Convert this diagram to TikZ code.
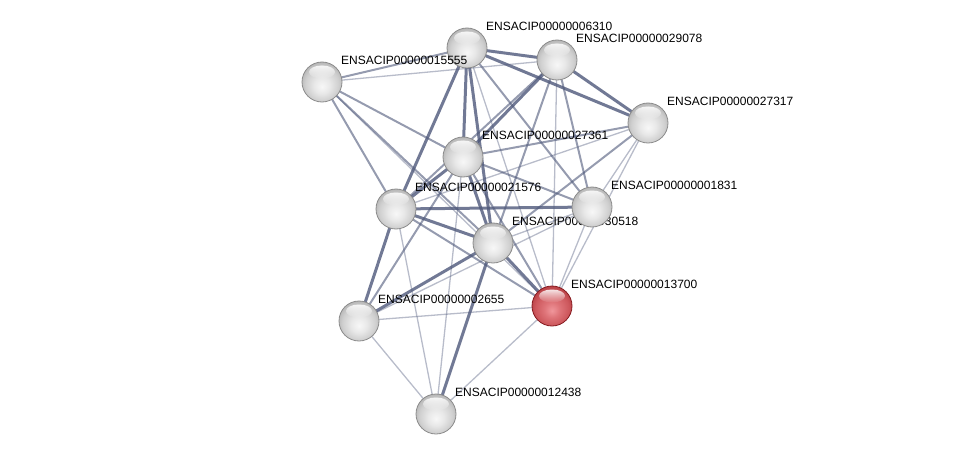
\documentclass[tikz,border=0pt]{standalone}
\usepackage{fontspec}
\setmainfont{Liberation Sans}
\usetikzlibrary{shapes.geometric,fadings}
\pgfdeclarelayer{bg}
\pgfsetlayers{bg,main}
\definecolor{edgecol}{RGB}{78,88,122}
\definecolor{rP}{RGB}{240,150,155}
\definecolor{rQ}{RGB}{222,115,120}
\definecolor{rR}{RGB}{205,88,93}
\definecolor{rS}{RGB}{180,60,65}
\definecolor{rT}{RGB}{135,28,33}
\pgfdeclareradialshading{graysphere}{\pgfpoint{0bp}{-6bp}}{color(0bp)=(black!3); color(10bp)=(black!9); color(21bp)=(black!19); color(28bp)=(black!30); color(32bp)=(black!45); color(36bp)=(black!60); color(40bp)=(black!60)}
\pgfdeclareradialshading{redsphere}{\pgfpoint{0bp}{-6bp}}{color(0bp)=(rP); color(10bp)=(rQ); color(21bp)=(rR); color(28bp)=(rS); color(33bp)=(rT); color(40bp)=(rT)}
\tikzset{
  prot/.style={circle, minimum size=40pt, inner sep=0pt, shading=graysphere, draw=black!45, line width=0.8pt},
  hit/.style={circle, minimum size=40pt, inner sep=0pt, shading=redsphere, draw=rT, line width=0.8pt},
  shine/.style={ellipse, minimum width=26pt, minimum height=13pt, inner sep=0pt, fill=white, path fading=south, fill opacity=0.85},
  lbl/.style={anchor=west, inner sep=0pt, font=\fontsize{12}{14}\selectfont, text=black},
  eA/.style={draw=edgecol, line width=1.3pt, draw opacity=0.4},
  eB/.style={draw=edgecol, line width=2pt, draw opacity=0.6},
  eC/.style={draw=edgecol, line width=3pt, draw opacity=0.8}
}
\newcommand\protein[5]{%
  \node[#5] (#1) at (#2,#3) {};
  \node[shine] (#1s) at (#2,#3-10) {};
  \node[lbl] (#1l) at (#2+19,#3-22) {#4};}
\begin{document}
\begin{tikzpicture}[x=1pt,y=-1pt]
\useasboundingbox (0,0) rectangle (975,460);
\protein{A}{467}{48}{ENSACIP00000006310}{prot}
\protein{C}{322}{82}{ENSACIP00000015555}{prot}
\protein{B}{557}{60}{ENSACIP00000029078}{prot}
\protein{D}{648}{123}{ENSACIP00000027317}{prot}
\protein{E}{463}{157}{ENSACIP00000027361}{prot}
\protein{F}{396}{209}{ENSACIP00000021576}{prot}
\protein{H}{493}{243}{ENSACIP00000030518}{prot}
\protein{G}{592}{207}{ENSACIP00000001831}{prot}
\protein{I}{552}{306}{ENSACIP00000013700}{hit}
\protein{J}{359}{321}{ENSACIP00000002655}{prot}
\protein{K}{436}{414}{ENSACIP00000012438}{prot}
\begin{pgfonlayer}{bg}
\foreach \a/\b in {A/I, B/C, B/I, C/I, D/F, D/G, D/I, E/K, F/K, G/H, G/I, G/J, I/J, I/K, J/K}
  \draw[eA] (\a.center) -- (\b.center);
\foreach \a/\b in {A/C, A/G, B/F, B/H, B/G, C/E, C/F, C/H, D/E, D/H, E/G, E/I, E/J, F/I}
  \draw[eB] (\a.center) -- (\b.center);
\foreach \a/\b in {A/B, A/D, A/E, A/F, A/H, B/D, B/E, E/F, E/H, F/G, F/H, F/J, H/I, H/J, H/K}
  \draw[eC] (\a.center) -- (\b.center);
\end{pgfonlayer}
\end{tikzpicture}
\end{document}
